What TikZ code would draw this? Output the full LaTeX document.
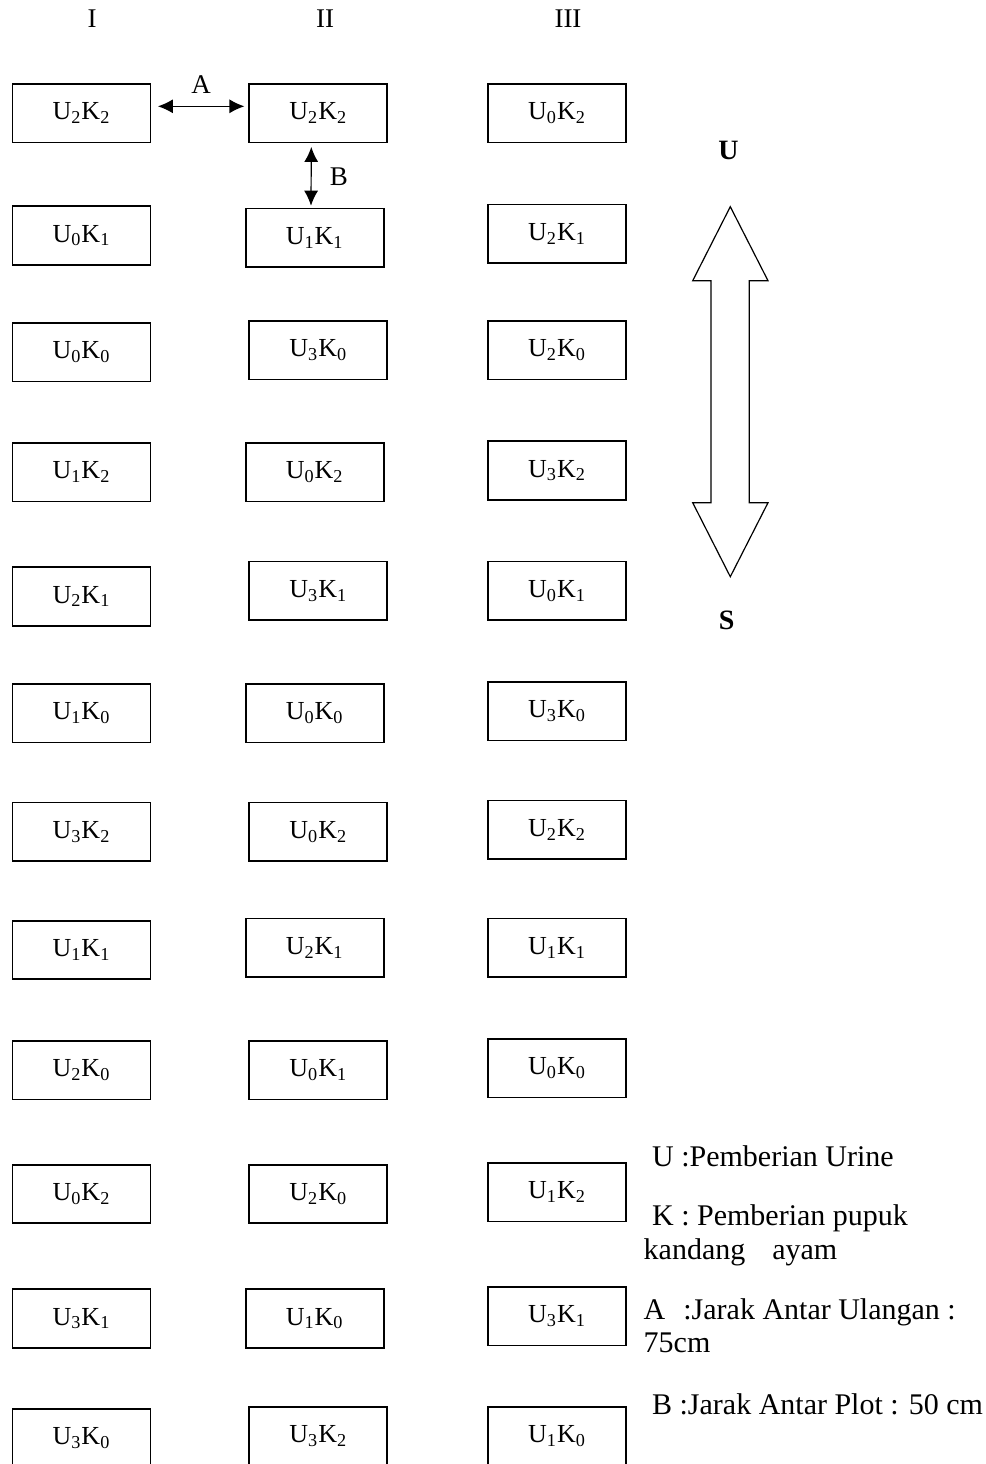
\documentclass[tikz,border=0pt]{standalone}
\usepackage{fontspec}
\setmainfont{Liberation Serif}
\usetikzlibrary{arrows.meta}
\newcommand\uk[2]{U\textsubscript{#1}K\textsubscript{#2}}
\begin{document}
\begin{tikzpicture}[x=0.5pt,y=-0.5pt,
  plot/.style={draw,line width=0.85pt,minimum width=69pt,minimum height=29.25pt,inner sep=0pt,font=\fontsize{13}{15}\selectfont},
  head/.style={inner sep=0pt,font=\fontsize{13.5}{16}\selectfont},
  dim/.style={{Latex[length=7.5pt,width=7pt]}-{Latex[length=7.5pt,width=7pt]},line width=0.6pt},
  compass/.style={inner sep=0pt,font=\fontsize{14}{16}\selectfont\bfseries},
  legend/.style={anchor=base west,inner sep=0pt,font=\fontsize{15}{18}\selectfont}]
\useasboundingbox (0,0) rectangle (986,1464);
% headers
\node[head] (hI) at (92,19) {I};
\node[head] (hII) at (325,19) {II};
\node[head] (hIII) at (568,19) {III};
% column I
\node[plot] (a1) at (81.5,113.3) {\uk22};
\node[plot] (a2) at (81.5,235.5) {\uk01};
\node[plot] (a3) at (81.5,352.2) {\uk00};
\node[plot] (a4) at (81.5,472.3) {\uk12};
\node[plot] (a5) at (81.5,596.5) {\uk21};
\node[plot] (a6) at (81.5,713.3) {\uk10};
\node[plot] (a7) at (81.5,831.7) {\uk32};
\node[plot] (a8) at (81.5,950) {\uk11};
\node[plot] (a9) at (81.5,1070.2) {\uk20};
\node[plot] (a10) at (81.5,1194) {\uk02};
\node[plot] (a11) at (81.5,1318.5) {\uk31};
\node[plot] (a12) at (81.5,1438.2) {\uk30};
% column II
\node[plot] (b1) at (318.3,113.3) {\uk22};
\node[plot] (b2) at (314.7,237.8) {\uk11};
\node[plot] (b3) at (318.3,350.3) {\uk30};
\node[plot] (b4) at (314.7,472.3) {\uk02};
\node[plot] (b5) at (318.3,590.8) {\uk31};
\node[plot] (b6) at (314.7,713.3) {\uk00};
\node[plot] (b7) at (318.3,831.7) {\uk02};
\node[plot] (b8) at (314.7,947.8) {\uk21};
\node[plot] (b9) at (318.3,1070.2) {\uk01};
\node[plot] (b10) at (318.3,1194) {\uk20};
\node[plot] (b11) at (314.7,1318.5) {\uk10};
\node[plot] (b12) at (318.3,1436.2) {\uk32};
% column III
\node[plot] (c1) at (557,113.3) {\uk02};
\node[plot] (c2) at (557,233.8) {\uk21};
\node[plot] (c3) at (557,350.3) {\uk20};
\node[plot] (c4) at (557,470.5) {\uk32};
\node[plot] (c5) at (557,590.8) {\uk01};
\node[plot] (c6) at (557,711.3) {\uk30};
\node[plot] (c7) at (557,829.7) {\uk22};
\node[plot] (c8) at (557,947.8) {\uk11};
\node[plot] (c9) at (557,1068.2) {\uk00};
\node[plot] (c10) at (557,1192.3) {\uk12};
\node[plot] (c11) at (557,1316.3) {\uk31};
\node[plot] (c12) at (557,1436.2) {\uk10};
% spacing arrows
\draw[dim] ([shift={(6.5,-7)}]a1.east) -- ([shift={(-4,-7)}]b1.west)
  node[midway,head,above=6pt] (lA) {A};
\draw[dim] ([shift={(-7,3.5)}]b1.south) -- ([shift={(-3.7,-2)}]b2.north)
  node[midway,head,right=9pt] (lB) {B};
% compass double arrow
\draw[line width=0.6pt,line join=miter] (730.3,206.7) -- (768,280.7) -- (749.3,280.7) -- (749.3,502.7)
  -- (768,502.7) -- (730.3,576.7) -- (692.7,502.7) -- (711,502.7) -- (711,280.7)
  -- (692.7,280.7) -- cycle;
\node[compass] (nU) at (728.5,150.5) {U};
\node[compass] (nS) at (726.7,620) {S};
% legend
\node[legend] (l1) at (651.7,1166) {U :Pemberian Urine};
\node[legend] (l2) at (651.7,1225) {K : Pemberian pupuk};
\node[legend] (l3) at (643.3,1259.3) {kandang\hspace{13.5pt}ayam};
\node[legend] (l4) at (643.3,1319) {A\hspace{9pt}:Jarak Antar Ulangan :};
\node[legend] (l5) at (643.3,1352.7) {75cm};
\node[legend] (l6) at (651.7,1414) {B :Jarak Antar Plot : 50 cm};
\end{tikzpicture}
\end{document}
